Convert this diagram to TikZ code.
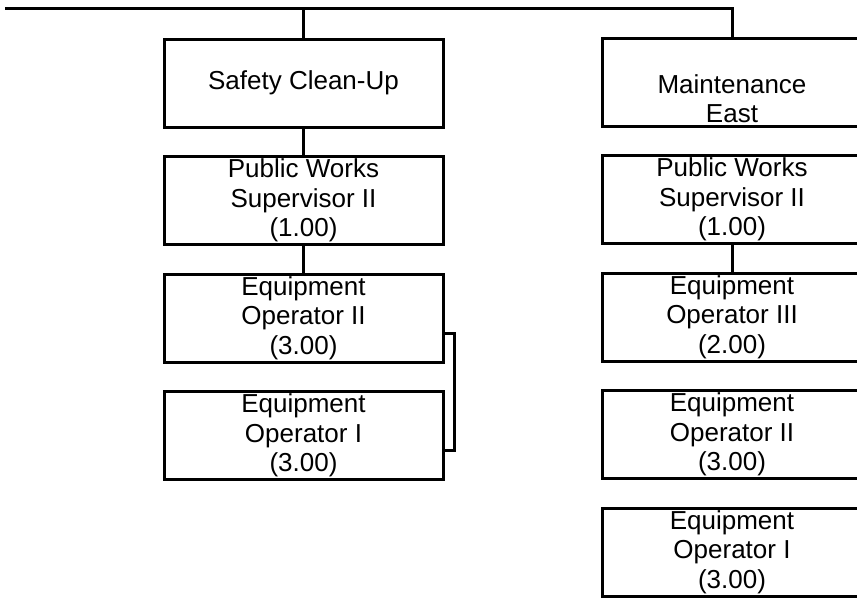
\documentclass[tikz,border=0pt]{standalone}
\usepackage{fontspec}
\setmainfont{Liberation Sans}
\usetikzlibrary{positioning}
\newcommand{\boxfont}{\fontsize{26}{29.5}\selectfont}

\begin{document}
\begin{tikzpicture}[x=1pt,y=-1pt,line width=3pt,node distance=29.5pt,
  posbox/.style={draw,rectangle,minimum height=88pt,inner sep=0pt,outer sep=0pt,
    align=center,font=\boxfont},
  leftbox/.style={posbox,minimum width=279pt},
  rightbox/.style={posbox,minimum width=260pt}]
  \useasboundingbox (0,0) rectangle (857,598);
  \clip (0,0) rectangle (857,598);
  \coordinate (top) at (5,8);
  % left column
  \node[leftbox] (safety) at (303.5,83) {Safety Clean-Up};
  \node[leftbox,below=of safety] (pwsl) {Public Works\\Supervisor II\\(1.00)};
  \node[leftbox,below=of pwsl] (eoiil) {Equipment\\Operator II\\(3.00)};
  \node[leftbox,below=of eoiil] (eoil) {Equipment\\Operator I\\(3.00)};
  % right column
  \node[rightbox,label={[anchor=south,align=center,font=\boxfont,inner sep=1.5pt]south:Maintenance\\East}] (mtce) at (732,82) {};
  \node[rightbox,below=of mtce] (pwsr) {Public Works\\Supervisor II\\(1.00)};
  \node[rightbox,below=of pwsr] (eoiiir) {Equipment\\Operator III\\(2.00)};
  \node[rightbox,below=of eoiiir] (eoiir) {Equipment\\Operator II\\(3.00)};
  \node[rightbox,below=of eoiir] (eoir) {Equipment\\Operator I\\(3.00)};
  % connectors
  \draw (top) -- (top -| mtce.north) -- (mtce.north);
  \draw (safety.north) -- (safety.north |- top);
  \draw (safety) -- (pwsl);
  \draw (pwsl) -- (eoiil);
  \draw ([yshift=-15pt]eoiil.east) -- ++(11,0) |- ([yshift=-15pt]eoil.east);
  \draw (pwsr) -- (eoiiir);
\end{tikzpicture}
\end{document}
